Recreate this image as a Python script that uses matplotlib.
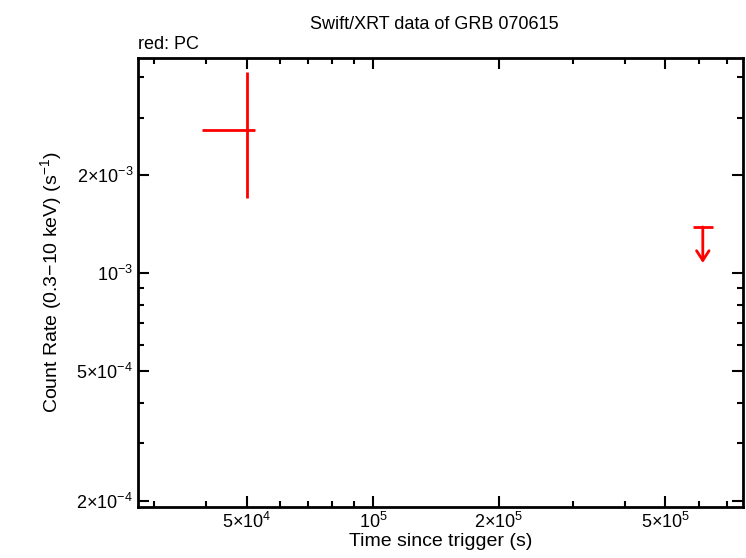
import matplotlib
matplotlib.use("Agg")
import matplotlib.pyplot as plt
from matplotlib.ticker import FixedLocator, NullFormatter, LogLocator

plt.rcParams['font.family'] = ['Liberation Sans', 'DejaVu Sans']
plt.rcParams['mathtext.fontset'] = 'custom'
plt.rcParams['mathtext.rm'] = 'Liberation Sans'

# detection
t = [5.0e4]; t_lo = [3.905e4]; t_hi = [5.225e4]
rate = [2.749e-3]; r_lo = [1.70e-3]; r_hi = [4.144e-3]
# upper limit
ul_t = [6.14e5]; ul_lo = [5.81e5]; ul_hi = [6.48e5]
ul_rate = [1.385e-3]

xticks = [5e4, 1e5, 2e5, 5e5]
xlabels = [r'5$\times$10$^{4}$', r'10$^{5}$', r'2$\times$10$^{5}$', r'5$\times$10$^{5}$']
yticks = [2e-4, 5e-4, 1e-3, 2e-3]
ylabels = [r'2$\times$10$^{-4}$', r'5$\times$10$^{-4}$', r'10$^{-3}$', r'2$\times$10$^{-3}$']

fig = plt.figure(figsize=(7.46, 5.58), dpi=100)
ax = fig.add_axes([138/746, 1-507/558, 605/746, 449/558])
ax.set_xscale('log'); ax.set_yscale('log')
ax.set_xlim(2.746e4, 7.66e5); ax.set_ylim(1.911e-4, 4.575e-3)

xerr = [[t[0]-t_lo[0]], [t_hi[0]-t[0]]]
yerr = [[rate[0]-r_lo[0]], [r_hi[0]-rate[0]]]
ax.errorbar(t, rate, xerr=xerr, yerr=yerr, fmt='none', ecolor='red', elinewidth=2, capsize=0)
ax.hlines(ul_rate, ul_lo, ul_hi, color='red', lw=2)
for x, y in zip(ul_t, ul_rate):
    ax.annotate('', xy=(x, y*0.775), xytext=(x, y),
                arrowprops=dict(arrowstyle='->,head_width=0.45,head_length=0.7', color='red', lw=2,
                                shrinkA=0, shrinkB=0))

ax.xaxis.set_major_locator(FixedLocator(xticks))
ax.set_xticklabels(xlabels)
ax.xaxis.set_minor_locator(LogLocator(base=10, subs=range(1, 10)))
ax.xaxis.set_minor_formatter(NullFormatter())
ax.yaxis.set_major_locator(FixedLocator(yticks))
ax.set_yticklabels(ylabels)
ax.yaxis.set_minor_locator(LogLocator(base=10, subs=range(1, 10)))
ax.yaxis.set_minor_formatter(NullFormatter())
ax.tick_params(which='both', direction='in', top=True, right=True, labelsize=13)
ax.tick_params(which='major', length=8, width=1.5)
ax.tick_params(which='minor', length=4, width=1.5)
for s in ax.spines.values():
    s.set_linewidth(2)

ax.set_xlabel('Time since trigger (s)', fontsize=14, labelpad=1)
ax.set_ylabel(r'Count Rate (0.3$-$10 keV) (s$^{-1}$)', fontsize=14, labelpad=8)
ax.set_title('Swift/XRT data of GRB 070615', fontsize=13, pad=21, x=0.49)
ax.text(0, 1.012, 'red: PC', transform=ax.transAxes, fontsize=13, va='bottom')
fig.savefig('out.png', dpi=100)
